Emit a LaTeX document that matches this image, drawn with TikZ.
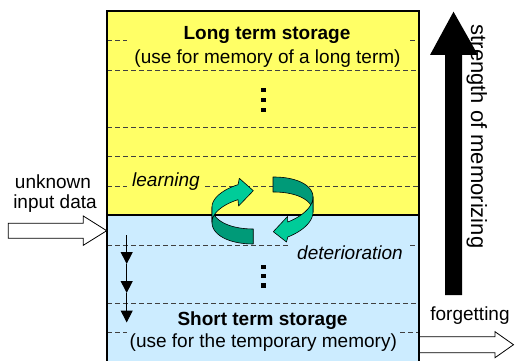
\documentclass[tikz,border=0pt]{standalone}
\usepackage{fontspec}
\setmainfont{Liberation Sans}
\usetikzlibrary{arrows.meta}
\definecolor{memyellow}{HTML}{FFFF66}
\definecolor{memblue}{HTML}{CCECFF}
\definecolor{tealfront}{HTML}{00CC99}
\definecolor{tealback}{HTML}{009A78}
\newcommand\lblfont{\fontsize{19}{23}\selectfont}
\begin{document}
\begin{tikzpicture}[x=1pt,y=-1pt,
  lbl/.style={font=\lblfont, inner sep=0pt},
  sep/.style={dash pattern=on 5pt off 3pt, line width=0.9pt, black!75},
  ribbonfront/.style={fill=tealfront, draw=black, line width=0.6pt, line join=round},
  ribbonback/.style={fill=tealback, draw=black, line width=0.6pt, line join=round},
  hollow/.style={draw=black, fill=white, line width=0.8pt, line join=miter},
  decay/.style={line width=1pt, -{Triangle[width=12pt,length=12pt]}},
]
\useasboundingbox (0,0) rectangle (515,361);

% storage column: long term (top) and short term (bottom)
\fill[memyellow] (107,11) rectangle (419,215);
\fill[memblue] (107,215) rectangle (419,366);

% dashed level separators
\draw[sep] (107,40.7) -- (127,40.7) (410,40.7) -- (419,40.7);
\draw[sep] (107,70) -- (419,70);
\draw[sep] (107,127.7) -- (419,127.7);
\draw[sep] (107,156.7) -- (419,156.7);
\draw[sep] (107,186) -- (127,186) (205,186) -- (419,186);
\draw[sep] (107,245) -- (288,245) (410,245) -- (419,245);
\draw[sep] (107,303.3) -- (419,303.3);
\draw[sep] (107,332.7) -- (127,332.7) (400,332.7) -- (419,332.7);

% column outline and boundary between the two storages
\draw[line width=2pt] (107,215) -- (419,215);
\draw[line width=2pt] (107,11) rectangle (419,366);

% texts inside the column
\node[lbl, anchor=base] (lts) at (267,40) {\bfseries Long term storage};
\node[lbl, anchor=base] (ltsuse) at (267.5,63.3) {(use for memory of a long term)};
\node[lbl, anchor=base] (sts) at (262.5,325) {\bfseries Short term storage};
\node[lbl, anchor=base] (stsuse) at (263.3,347.7) {(use for the temporary memory)};
\node[lbl, anchor=base west] (learn) at (132,186) {\itshape learning};
\node[lbl, anchor=base west] (deter) at (297,259.3) {\itshape deterioration};

% omitted levels
\foreach \y in {90,100,110,266.7,276,285.3}
  \fill (261.1,\y-2.2) rectangle +(4.5,4.5);

% gradual decay towards forgetting
\coordinate (d0) at (126.7,235);
\coordinate (d1) at (126.7,264);
\coordinate (d2) at (126.7,293);
\coordinate (d3) at (126.7,322.5);
\draw[decay] (d0) -- (d1);
\draw[decay] (d1) -- (d2);
\draw[decay] (d2) -- (d3);

% learning / deterioration cycle (ribbon on a tilted ellipse)
% left arrow: back part from the tail, front part up to the head
\draw[ribbonback]
  plot[domain=259.5:180, samples=40, variable=\t] ({262.5+50.5*cos(\t)},{202.5-5*cos(\t)-26*sin(\t)})
  -- plot[domain=180:259.5, samples=40, variable=\t] ({262.5+50.5*cos(\t)},{217.5-5*cos(\t)-26*sin(\t)})
  -- cycle;
\draw[ribbonfront]
  plot[domain=180:119, samples=40, variable=\t] ({262.5+50.5*cos(\t)},{202-5*cos(\t)-26*sin(\t)+3*(180-\t)/61})
  -- (239.3,178.3) -- (253.3,190.7) -- (238.6,206)
  -- plot[domain=119:180, samples=40, variable=\t] ({262.5+50.5*cos(\t)},{217-5*cos(\t)-26*sin(\t)+3*(180-\t)/61})
  -- cycle;
% right arrow: back part from the tail, front part up to the head
\draw[ribbonback]
  plot[domain=78:0, samples=40, variable=\t] ({262.5+50.5*cos(\t)},{202-5*cos(\t)-26*sin(\t)+1.5*\t/78})
  -- plot[domain=0:78, samples=40, variable=\t] ({262.5+50.5*cos(\t)},{217-5*cos(\t)-26*sin(\t)+1.5*\t/78})
  -- cycle;
\draw[ribbonfront]
  plot[domain=360:300, samples=40, variable=\t] ({262.5+50.5*cos(\t)},{202-5*cos(\t)-26*sin(\t)})
  -- (287.5,216.5) -- (273.3,231.7) -- (286.5,242)
  -- plot[domain=300:360, samples=40, variable=\t] ({262.5+50.5*cos(\t)},{217-5*cos(\t)-26*sin(\t)})
  -- cycle;

% incoming data
\node[lbl, anchor=base] (unk) at (53,188.3) {unknown};
\node[lbl, anchor=base] (inp) at (55,208.3) {input data};
\draw[hollow] (8.3,223.3) -- (83.3,223.3) -- (83.3,216) -- (106.7,230.7)
  -- (83.3,245.3) -- (83.3,238.3) -- (8.3,238.3) -- cycle;

% forgetting
\node[lbl, anchor=base] (forget) at (470,320) {forgetting};
\draw[hollow] (420,336.7) -- (495,336.7) -- (495,331.7) -- (513.5,344.7)
  -- (495,357.7) -- (495,352.7) -- (420,352.7);

% strength scale
\fill (445,295) -- (445,55) -- (430,55) -- (453.5,11.7) -- (478,55)
  -- (462,55) -- (462,295) -- cycle;
\node[lbl, font=\fontsize{22}{26}\selectfont, anchor=base, rotate=-90] (strength) at (471,136.5) {strength of memorizing};
\end{tikzpicture}
\end{document}
